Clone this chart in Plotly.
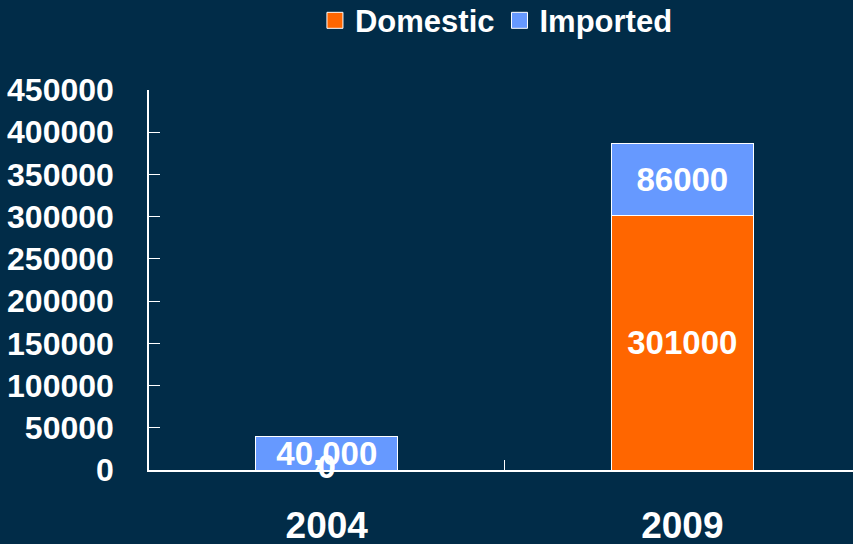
import plotly.graph_objects as go

years = ["2004", "2009"]
domestic = [0, 301000]
imported = [40000, 86000]
domestic_labels = ["0", "301000"]
imported_labels = ["40,000", "86000"]
y_ticks = [0, 50000, 100000, 150000, 200000, 250000, 300000, 350000, 400000, 450000]

BG = "#012C48"
ORANGE = "#FF6600"
BLUE = "#6699FF"
FONT = "Liberation Sans, Arial, sans-serif"

fig = go.Figure()
fig.add_trace(go.Bar(
    x=years, y=domestic, name="Domestic", marker=dict(color=ORANGE, line=dict(color="white", width=1)),
    width=0.4, text=domestic_labels, textposition="inside", insidetextanchor="middle",
    textfont=dict(color="white", size=33, family=FONT, weight="bold"), showlegend=False,
))
fig.add_trace(go.Bar(
    x=years, y=imported, name="Imported", marker=dict(color=BLUE, line=dict(color="white", width=1)),
    width=0.4, text=imported_labels, textposition="inside", insidetextanchor="middle",
    textfont=dict(color="white", size=33, family=FONT, weight="bold"), showlegend=False,
))
# zero-value label for 2004 domestic (a bar of height 0 cannot show inside text)
fig.add_trace(go.Scatter(
    x=[years[0]], y=[domestic[0]], mode="text", text=[domestic_labels[0]],
    textposition="middle center",
    textfont=dict(color="white", size=33, family=FONT, weight="bold"), showlegend=False,
    cliponaxis=False, hoverinfo="skip",
))
# legend entries
for nm, col in [("Domestic", ORANGE), ("Imported", BLUE)]:
    fig.add_trace(go.Scatter(
        x=[None], y=[None], mode="markers", name=nm,
        marker=dict(symbol="square", size=20, color=col, line=dict(color="white", width=1)),
    ))

fig.update_layout(
    width=853, height=544,
    barmode="stack",
    paper_bgcolor=BG, plot_bgcolor=BG,
    margin=dict(l=149, r=0, t=90, b=74, autoexpand=False),
    font=dict(family=FONT, color="white", size=32, weight="bold"),
    uniformtext=dict(mode="show", minsize=33),
    legend=dict(orientation="h", x=0.582, xref="container", xanchor="center", y=0.962, yref="container",
                yanchor="middle", traceorder="normal",
                font=dict(size=31, color="white", family=FONT, weight="bold"),
                bgcolor="rgba(0,0,0,0)", itemwidth=30, tracegroupgap=0),
    xaxis=dict(type="category", range=[-0.5, 1.48], showgrid=False, showline=True, linecolor="white",
               linewidth=1.5, ticks="inside", tickson="boundaries", tickcolor="white", ticklen=10,
               tickfont=dict(size=37, color="white", family=FONT, weight="bold"),
               ticklabelstandoff=22, zeroline=False, automargin=False),
    yaxis=dict(range=[0, 450000], tickvals=y_ticks, ticktext=[str(v) for v in y_ticks],
               showgrid=False, showline=True, linecolor="white", linewidth=1.5, ticks="inside",
               tickcolor="white", ticklen=11, ticklabelstandoff=27, zeroline=False, automargin=False,
               tickfont=dict(size=32, color="white", family=FONT, weight="bold")),
)

fig.write_html("out.html", config={"displayModeBar": False},
               post_script="document.body.style.margin='0';document.body.style.padding='0';")
